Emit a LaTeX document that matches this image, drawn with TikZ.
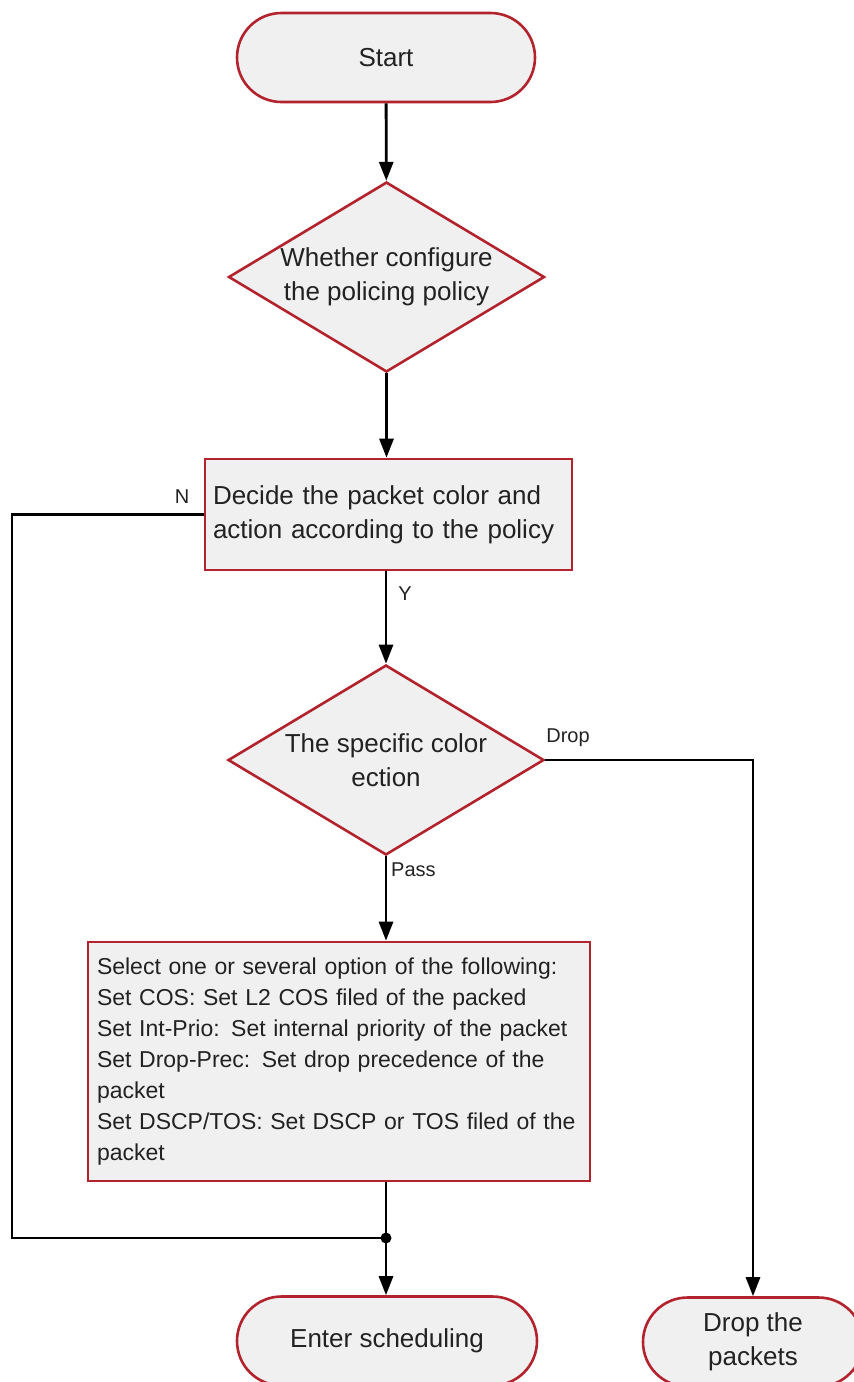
\documentclass[tikz,border=0pt]{standalone}
\usepackage{fontspec}
\setmainfont{Liberation Sans}
\usetikzlibrary{shapes.geometric,shapes.misc,arrows.meta}
\definecolor{boxfill}{HTML}{F0F0F0}
\definecolor{boxline}{HTML}{B3232D}
\definecolor{txt}{HTML}{222222}
\begin{document}
\begin{tikzpicture}[x=1pt,y=-1pt,
  shp/.style={draw=boxline, fill=boxfill, line width=2.6pt, text=txt, font=\fontsize{26}{34}\selectfont},
  term/.style={shp, rounded rectangle, minimum height=89pt, inner sep=0pt, align=center},
  decision/.style={shp, diamond, aspect=1.66, minimum width=316pt, minimum height=190pt, inner sep=0pt, align=center},
  procbox/.style={shp, rectangle, align=left, inner ysep=0pt},
  conn/.style={line width=2.8pt, draw=black},
  arr/.style={conn, -{Triangle[length=19pt,width=14pt]}},
  lbl/.style={font=\fontsize{20}{24}\selectfont, text=txt, inner sep=0pt}
]
\useasboundingbox (0,0) rectangle (854,1382);
\fill[white] (0,0) rectangle (854,1382);

\node[term, minimum width=298pt] (start) at (386,57.5) {Start};
\node[decision] (d1) at (386.5,277) {Whether configure\\the policing policy};
\node[procbox, minimum width=367pt, minimum height=111pt, text width=351pt, inner xsep=8pt] (b1) at (388.5,514.5)
  {Decide the packet color and\\action according to the policy};
\node[decision] (d2) at (386,760) {The specific color\\ection};
\node[procbox, minimum width=502pt, minimum height=239pt, text width=484pt, inner xsep=9pt,
  font=\fontsize{23}{31}\selectfont] (b2) at (339,1061.5)
  {Select one or several option of the following:\\
   Set COS: Set L2 COS filed of the packed\\
   Set Int-Prio: Set internal priority of the packet\\
   Set Drop-Prec: Set drop precedence of the\\
   packet\\
   Set DSCP/TOS: Set DSCP or TOS filed of the\\
   packet};
\node[term, minimum width=300pt] (sched) at (387,1341) {Enter scheduling};
\node[term, minimum width=220pt] (drop) at (753,1342) {Drop the\\packets};

\coordinate (jn) at (386,1238);
\coordinate (nb) at (12,1238);

\draw[arr] (start) -- (d1);
\draw[arr] (d1.south) -- (d1.south |- b1.north);
\draw[arr] (d2.north |- b1.south) -- (d2.north);
\draw[arr] (d2.south) -- (d2.south |- b2.north);
\draw[conn] (jn |- b2.south) -- (jn);
\draw[arr] (jn) -- (jn |- sched.north);
\draw[conn] (b1.west) -| (nb) -- (jn);
\draw[arr] (d2.east) -| (drop.north);
\fill (jn) circle (5.5pt);

\node[lbl] (lN) at (182,497) {N};
\node[lbl] (lY) at (405,594) {Y};
\node[lbl] (lDrop) at (568,738) {Drop};
\node[lbl, anchor=west] (lPass) at (391,870) {Pass};
\end{tikzpicture}
\end{document}
